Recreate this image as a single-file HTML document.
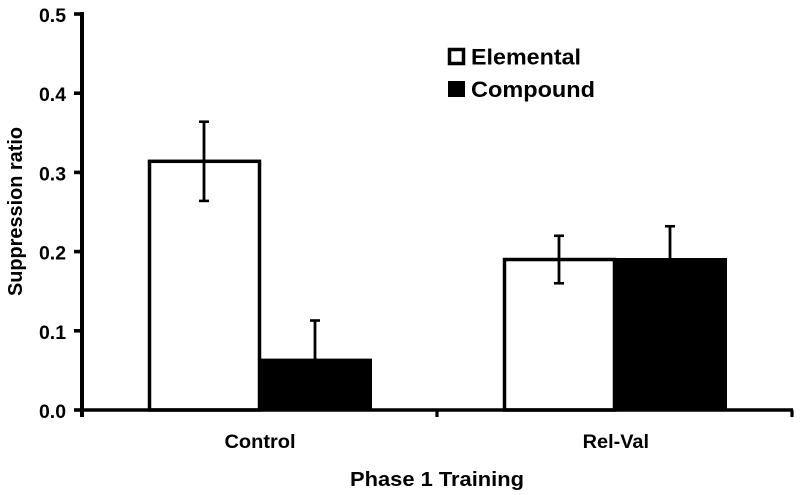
<!DOCTYPE html>
<html>
<head>
<meta charset="utf-8">
<style>
html,body{margin:0;padding:0;background:#fff;width:800px;height:495px;overflow:hidden}
svg{display:block}
text{font-family:"Liberation Sans",sans-serif;font-weight:bold;fill:#000}
</style>
</head>
<body>
<svg id="chart" width="800" height="495" viewBox="0 0 800 495" xmlns="http://www.w3.org/2000/svg"></svg>
<script>
const categories = ['Control', 'Rel-Val'];
const seriesNames = ['Elemental', 'Compound'];
const elementalValues = [0.314, 0.19];
const compoundValues = [0.063, 0.19];
const elementalErrors = [0.05, 0.03];
const compoundErrors = [0.05, 0.042];
const yTicks = [0, 0.1, 0.2, 0.3, 0.4, 0.5];

const svg = document.getElementById('chart');
const NS = 'http://www.w3.org/2000/svg';
const plot = {left: 82, right: 792, top: 14, bottom: 410};
const yMax = 0.5;
const barWidth = 111;

function y(v) { return plot.bottom - (v / yMax) * (plot.bottom - plot.top); }
function band() { return (plot.right - plot.left) / categories.length; }
function catCenter(i) { return plot.left + band() * (i + 0.5); }

function make(tag, attrs, name, interactable) {
  const el = document.createElementNS(NS, tag);
  for (const k in attrs) el.setAttribute(k, attrs[k]);
  
  
  svg.appendChild(el);
  return el;
}
function line(x1, y1, x2, y2, w, name) {
  return make('line', {x1, y1, x2, y2, stroke: '#000', 'stroke-width': w}, name, 'false');
}
function label(str, x, yy, size, len, name, extra) {
  const t = make('text', Object.assign({x, y: yy, 'font-size': size, textLength: len, lengthAdjust: 'spacingAndGlyphs'}, extra || {}), name, 'false');
  t.textContent = str;
  return t;
}

/* bars */
function drawBar(series, v, i, offset) {
  const x0 = catCenter(i) + offset;
  const top = y(v);
  if (series === 0) {
    make('rect', {x: x0 + 1, y: top, width: barWidth - 1, height: plot.bottom - top, fill: '#fff', stroke: '#000', 'stroke-width': 3.5}, 'elemental-bar-' + categories[i].toLowerCase(), 'false');
  } else {
    make('rect', {x: x0, y: top - 1.5, width: barWidth + 1.5, height: plot.bottom - top + 1.5, fill: '#000'}, 'compound-bar-' + categories[i].toLowerCase(), 'false');
  }
}
function drawError(series, v, e, i, offset) {
  const cx = catCenter(i) + offset + barWidth / 2;
  const tag = (series === 0 ? 'elemental' : 'compound') + '-error-' + categories[i].toLowerCase();
  line(cx, y(v + e), cx, y(v - e), 2.8, tag + '-stem');
  line(cx - 5, y(v + e), cx + 5, y(v + e), 2.6, tag + '-cap-top');
  line(cx - 5, y(v - e), cx + 5, y(v - e), 2.6, tag + '-cap-bottom');
}
categories.forEach((c, i) => {
  drawBar(0, elementalValues[i], i, -barWidth);
  drawBar(1, compoundValues[i], i, 0);
});
categories.forEach((c, i) => {
  drawError(0, elementalValues[i], elementalErrors[i], i, -barWidth);
  drawError(1, compoundValues[i], compoundErrors[i], i, 0);
});

/* axes */
line(plot.left, plot.top - 2, plot.left, plot.bottom + 7, 4, 'y-axis-line');
line(plot.left - 2, plot.bottom, plot.right + 1, plot.bottom, 3.6, 'x-axis-line');
yTicks.forEach(t => {
  line(plot.left - 8, y(t), plot.left, y(t), 3.6, 'y-tick-' + t.toFixed(1));
  label(t.toFixed(1), 39, y(t) + 8, 19.5, 27, 'y-tick-label-' + t.toFixed(1));
});
for (let i = 0; i <= categories.length; i++) {
  const tx = plot.left + band() * i;
  line(tx, plot.bottom, tx, plot.bottom + 7, 3.2, 'x-tick-' + i);
}
const catStarts = [224.5, 582.7];
const catLens = [71, 66.3];
categories.forEach((c, i) => {
  label(c, catStarts[i], 448, 19.7, catLens[i], 'x-category-label-' + c.toLowerCase());
});

/* titles */
label('Phase 1 Training', 350, 486, 20.5, 174, 'x-axis-title');
label('Suppression ratio', 0, 0, 19.9, 169, 'y-axis-title', {transform: 'translate(22,296) rotate(-90)'});

/* legend */
make('rect', {x: 449.5, y: 49.5, width: 14, height: 14, fill: '#fff', stroke: '#000', 'stroke-width': 3.5}, 'legend-swatch-elemental', 'false');
label(seriesNames[0], 471, 64.5, 22, 110, 'legend-label-elemental');
make('rect', {x: 448, y: 81, width: 17, height: 16, fill: '#000'}, 'legend-swatch-compound', 'false');
label(seriesNames[1], 471, 97, 22, 124, 'legend-label-compound');
</script>
</body>
</html>
